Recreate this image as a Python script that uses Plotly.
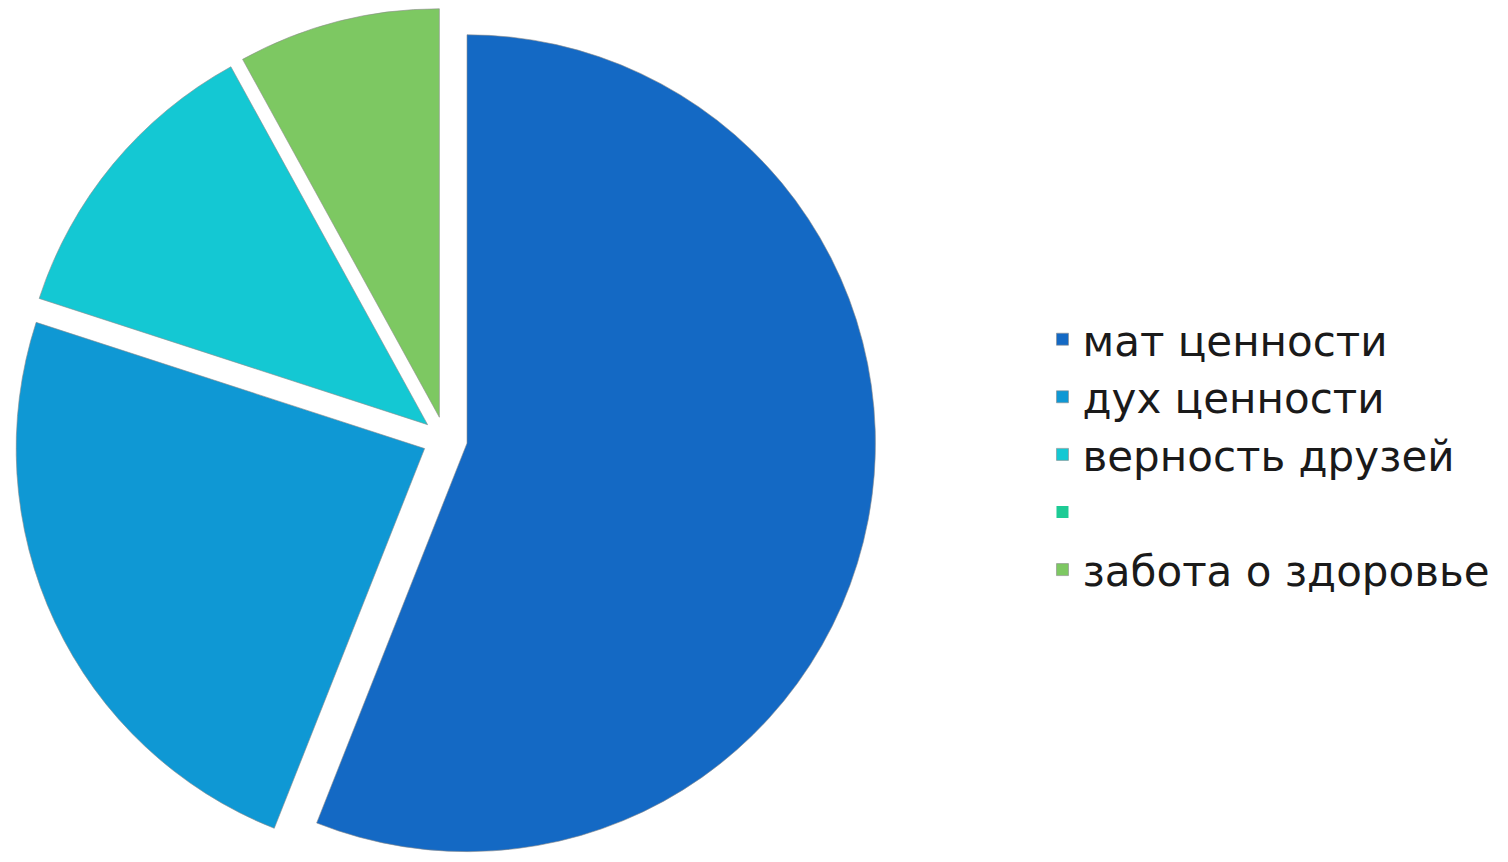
import plotly.graph_objects as go

labels = ["мат ценности", "дух ценности", "верность друзей", " ", "забота о здоровье"]
values = [56, 24, 12, 0, 8]
colors = ["#1469C4", "#0F98D4", "#14C8D3", "#1DCB95", "#7DC862"]
line_widths = [1, 1, 1, 0, 1]
pulls = [0.055, 0.055, 0.055, 0, 0.055]

fig = go.Figure(go.Pie(
    labels=labels,
    values=values,
    sort=False,
    direction="clockwise",
    rotation=0,
    pull=pulls,
    textinfo="none",
    hoverinfo="label+value",
    marker=dict(colors=colors, line=dict(color="rgba(140,140,140,0.6)", width=line_widths)),
    domain=dict(x=[0.0040, 0.5755], y=[0.0, 1.0]),
))

fig.update_layout(
    width=1508,
    height=862,
    margin=dict(l=0, r=0, t=0, b=0),
    paper_bgcolor="white",
    plot_bgcolor="white",
    showlegend=True,
    legend=dict(
        x=0.686, y=0.655, xanchor="left", yanchor="top",
        font=dict(family="DejaVu Sans", size=42, color="#1a1a1a"),
        itemwidth=30,
        bgcolor="rgba(0,0,0,0)",
    ),
)

fig.write_html("out.html")
